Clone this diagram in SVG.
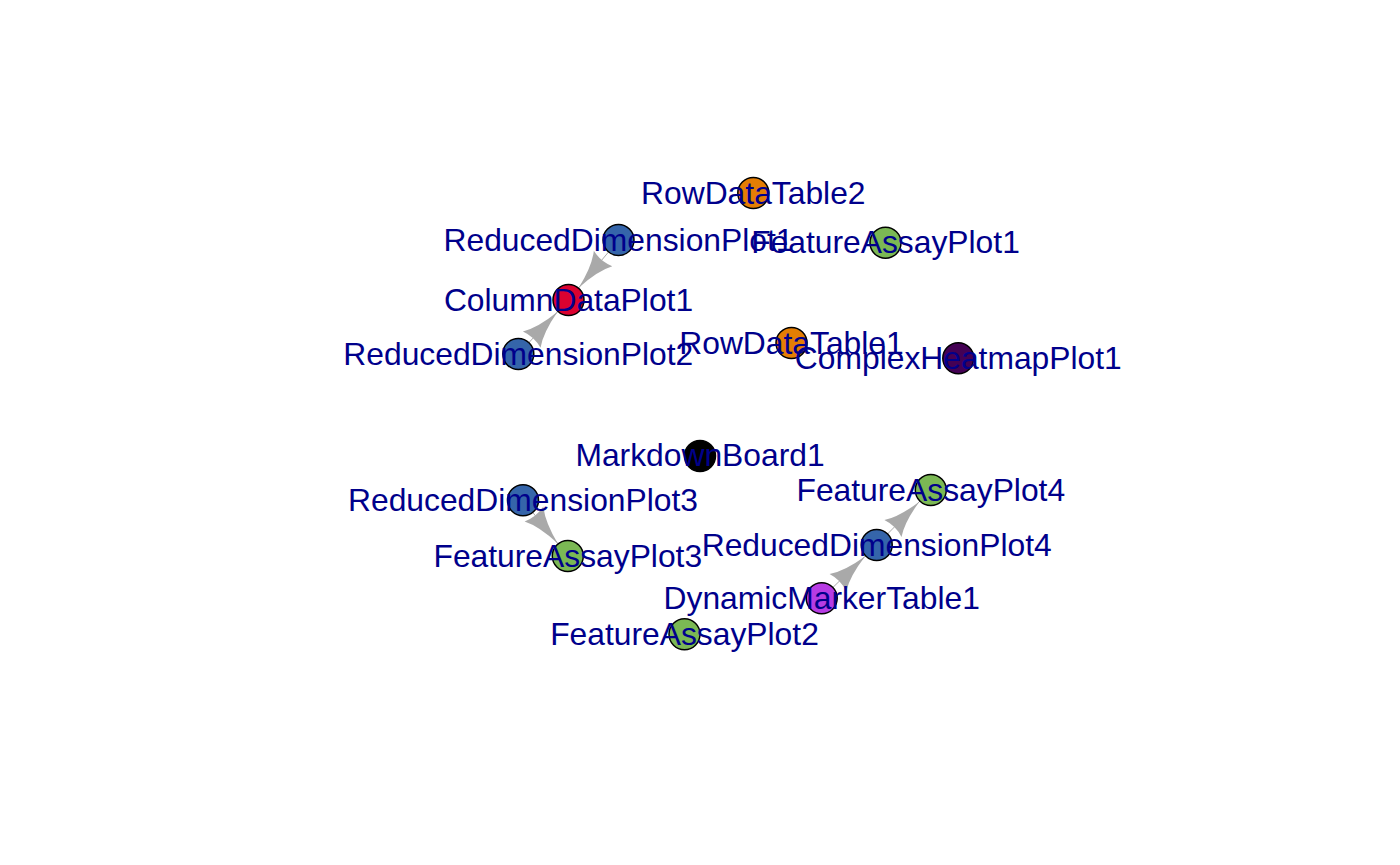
<svg xmlns="http://www.w3.org/2000/svg" width="1400" height="865" viewBox="0 0 1400 865">
<style>
.bg{fill:#ffffff}
.shaft{stroke:#A9A9A9;stroke-width:1;fill:none}
.head{fill:#A9A9A9;stroke:none}
.v{stroke:#000000;stroke-width:1.5}
.lbl{font-family:"Liberation Sans",Arial,Helvetica,sans-serif;font-size:31.8px;fill:#00008B;text-anchor:middle}
.rdt{fill:#E47E04}
.rdp{fill:#3565AA}
.fap{fill:#7BB854}
.cdp{fill:#DB0230}
.chm{fill:#440154}
.dmt{fill:#B73CE4}
.mdb{fill:#000000}
</style>
<rect class="bg" x="0" y="0" width="1400" height="865"/>
<g id="connectors">
<line class="shaft" x1="618.5" y1="240" x2="568.5" y2="300"/>
<path class="head" d="M612.3,266.19 Q597.45,270.73 578.76,287.69 Q592.07,266.25 593.86,250.83 Q600.52,261.58 612.3,266.19 Z"/>
<line class="shaft" x1="518.3" y1="354" x2="568.5" y2="300"/>
<path class="head" d="M540.52,347.72 Q543.15,332.41 557.61,311.72 Q538.03,327.65 522.94,331.38 Q534.46,336.62 540.52,347.72 Z"/>
<line class="shaft" x1="523" y1="500.3" x2="567.8" y2="556"/>
<path class="head" d="M524.62,521.45 Q539.38,526.25 557.78,543.53 Q544.84,521.87 543.32,506.41 Q536.47,517.05 524.62,521.45 Z"/>
<line class="shaft" x1="876.7" y1="545" x2="930.8" y2="490"/>
<path class="head" d="M901.48,536.91 Q904.55,521.68 919.58,501.41 Q899.55,516.78 884.38,520.09 Q895.74,525.64 901.48,536.91 Z"/>
<line class="shaft" x1="821.7" y1="598.3" x2="876.7" y2="545"/>
<path class="head" d="M846.27,591.2 Q849.7,576.04 865.21,556.14 Q844.82,571.02 829.57,573.96 Q840.79,579.8 846.27,591.2 Z"/>
</g>
<g id="RowDataTable2"><circle class="v rdt" cx="753.3" cy="193" r="15.5"/><text class="lbl" x="753.3" y="203.5">RowDataTable2</text></g>
<g id="ReducedDimensionPlot1"><circle class="v rdp" cx="618.5" cy="240" r="15.5"/><text class="lbl" x="618.5" y="250.5">ReducedDimensionPlot1</text></g>
<g id="FeatureAssayPlot1"><circle class="v fap" cx="885.5" cy="242.7" r="15.5"/><text class="lbl" x="885.5" y="253.2">FeatureAssayPlot1</text></g>
<g id="ColumnDataPlot1"><circle class="v cdp" cx="568.5" cy="300" r="15.5"/><text class="lbl" x="568.5" y="310.5">ColumnDataPlot1</text></g>
<g id="ReducedDimensionPlot2"><circle class="v rdp" cx="518.3" cy="354" r="15.5"/><text class="lbl" x="518.3" y="364.5">ReducedDimensionPlot2</text></g>
<g id="RowDataTable1"><circle class="v rdt" cx="791.5" cy="343" r="15.5"/><text class="lbl" x="791.5" y="353.5">RowDataTable1</text></g>
<g id="ComplexHeatmapPlot1"><circle class="v chm" cx="958.3" cy="358.3" r="15.5"/><text class="lbl" x="958.3" y="368.8">ComplexHeatmapPlot1</text></g>
<g id="MarkdownBoard1"><circle class="v mdb" cx="700" cy="456" r="15.5"/><text class="lbl" x="700" y="466">MarkdownBoard1</text></g>
<g id="ReducedDimensionPlot3"><circle class="v rdp" cx="523" cy="500.3" r="15.5"/><text class="lbl" x="523" y="510.8">ReducedDimensionPlot3</text></g>
<g id="FeatureAssayPlot3"><circle class="v fap" cx="567.8" cy="556" r="15.5"/><text class="lbl" x="567.8" y="566.5">FeatureAssayPlot3</text></g>
<g id="FeatureAssayPlot4"><circle class="v fap" cx="930.8" cy="490" r="15.5"/><text class="lbl" x="930.8" y="500.5">FeatureAssayPlot4</text></g>
<g id="ReducedDimensionPlot4"><circle class="v rdp" cx="876.7" cy="545" r="15.5"/><text class="lbl" x="876.7" y="555.5">ReducedDimensionPlot4</text></g>
<g id="DynamicMarkerTable1"><circle class="v dmt" cx="821.7" cy="598.3" r="15.5"/><text class="lbl" x="821.7" y="608.8">DynamicMarkerTable1</text></g>
<g id="FeatureAssayPlot2"><circle class="v fap" cx="684.5" cy="634.3" r="15.5"/><text class="lbl" x="684.5" y="644.8">FeatureAssayPlot2</text></g>
</svg>
